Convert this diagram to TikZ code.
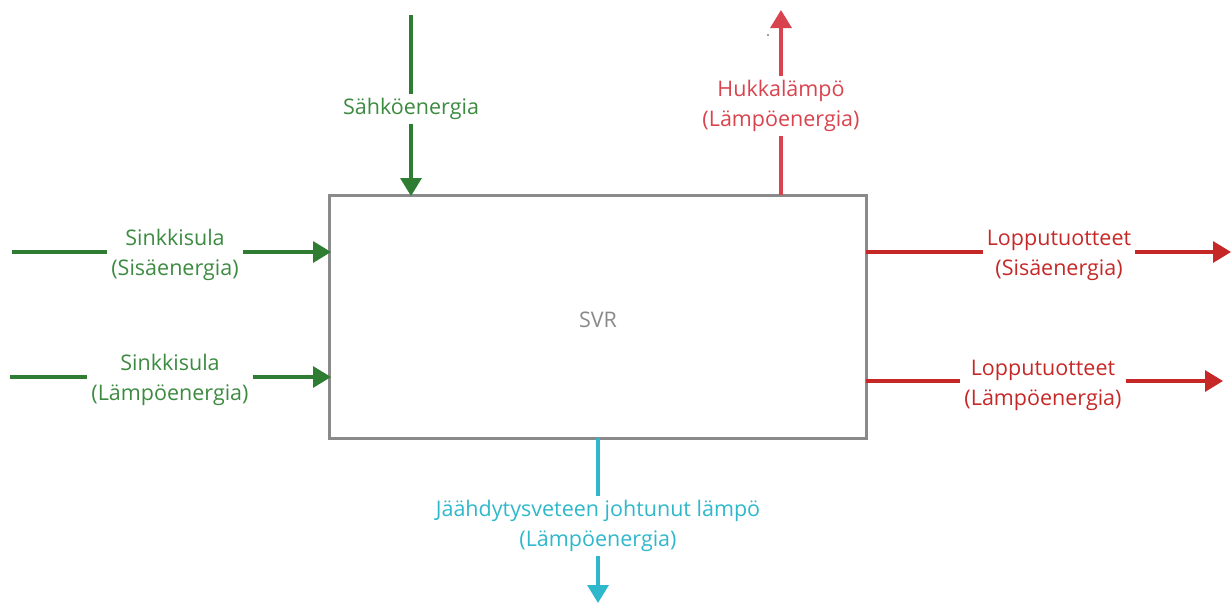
\documentclass[tikz,border=0pt]{standalone}
\usepackage{fontspec}
\setmainfont{Open Sans}
\usetikzlibrary{arrows.meta}
\definecolor{ingreen}{HTML}{2E7D32}
\definecolor{ingreentxt}{HTML}{3D8B41}
\definecolor{lossred}{HTML}{D9434E}
\definecolor{outred}{HTML}{C62828}
\definecolor{coolcyan}{HTML}{2FB8CB}
\definecolor{boxgray}{HTML}{8A8A8A}
\tikzset{
  flow/.style={line width=3.3pt},
  flowtip/.style={flow,-{Triangle[length=18pt,width=21pt]}},
  lab/.style={font=\fontsize{21.5}{30}\selectfont, align=center, inner sep=4pt},
  process/.style={draw=boxgray, line width=3pt, fill=white},
}
\begin{document}
\begin{tikzpicture}[x=1pt,y=-1pt]
\useasboundingbox (0,0) rectangle (1231,603);

% central process block
\draw[process] (329,195) rectangle (866,438);
\node[lab, text=boxgray] (svr) at (598,320) {SVR};

% electrical input from above
\coordinate (elstart) at (411,15);
\coordinate (elend) at (411,196);
\node[lab, text=ingreentxt] (el) at (411,109) {Sähköenergia};
\draw[flow, ingreen] (elstart) -- (el.north);
\draw[flowtip, ingreen] (el.south) -- (elend);

% zinc melt inputs from the left
\coordinate (zs1) at (12,252);
\coordinate (ze1) at (331,252);
\node[lab, text=ingreentxt] (z1) at (175,255) {Sinkkisula\\(Sisäenergia)};
\draw[flow, ingreen] (zs1) -- (zs1 -| z1.west);
\draw[flowtip, ingreen] (ze1 -| z1.east) -- (ze1);

\coordinate (zs2) at (10,377);
\coordinate (ze2) at (331,377);
\node[lab, text=ingreentxt] (z2) at (170,380) {Sinkkisula\\(Lämpöenergia)};
\draw[flow, ingreen] (zs2) -- (zs2 -| z2.west);
\draw[flowtip, ingreen] (ze2 -| z2.east) -- (ze2);

% waste heat upwards
\coordinate (ws) at (781,195);
\coordinate (we) at (781,10);
\node[lab, text=lossred] (w) at (781,106) {Hukkalämpö\\(Lämpöenergia)};
\draw[flow, lossred] (ws) -- (w.south);
\draw[flowtip, lossred] (w.north) -- (we);
\fill[gray] (768,35) circle (1.1pt);

% products to the right
\coordinate (ps1) at (866,252);
\coordinate (pe1) at (1231,252);
\node[lab, text=outred] (p1) at (1059,255) {Lopputuotteet\\(Sisäenergia)};
\draw[flow, outred] (ps1) -- (ps1 -| p1.west);
\draw[flowtip, outred] (pe1 -| p1.east) -- (pe1);

\coordinate (ps2) at (866,381);
\coordinate (pe2) at (1223,381);
\node[lab, text=outred] (p2) at (1043,385) {Lopputuotteet\\(Lämpöenergia)};
\draw[flow, outred] (ps2) -- (ps2 -| p2.west);
\draw[flowtip, outred] (pe2 -| p2.east) -- (pe2);

% heat to cooling water
\coordinate (cs) at (598,438);
\coordinate (ce) at (598,603);
\node[lab, text=coolcyan] (c) at (598,526) {Jäähdytysveteen johtunut lämpö\\(Lämpöenergia)};
\draw[flow, coolcyan] (cs) -- (c.north);
\draw[flowtip, coolcyan] (c.south) -- (ce);
\end{tikzpicture}
\end{document}
